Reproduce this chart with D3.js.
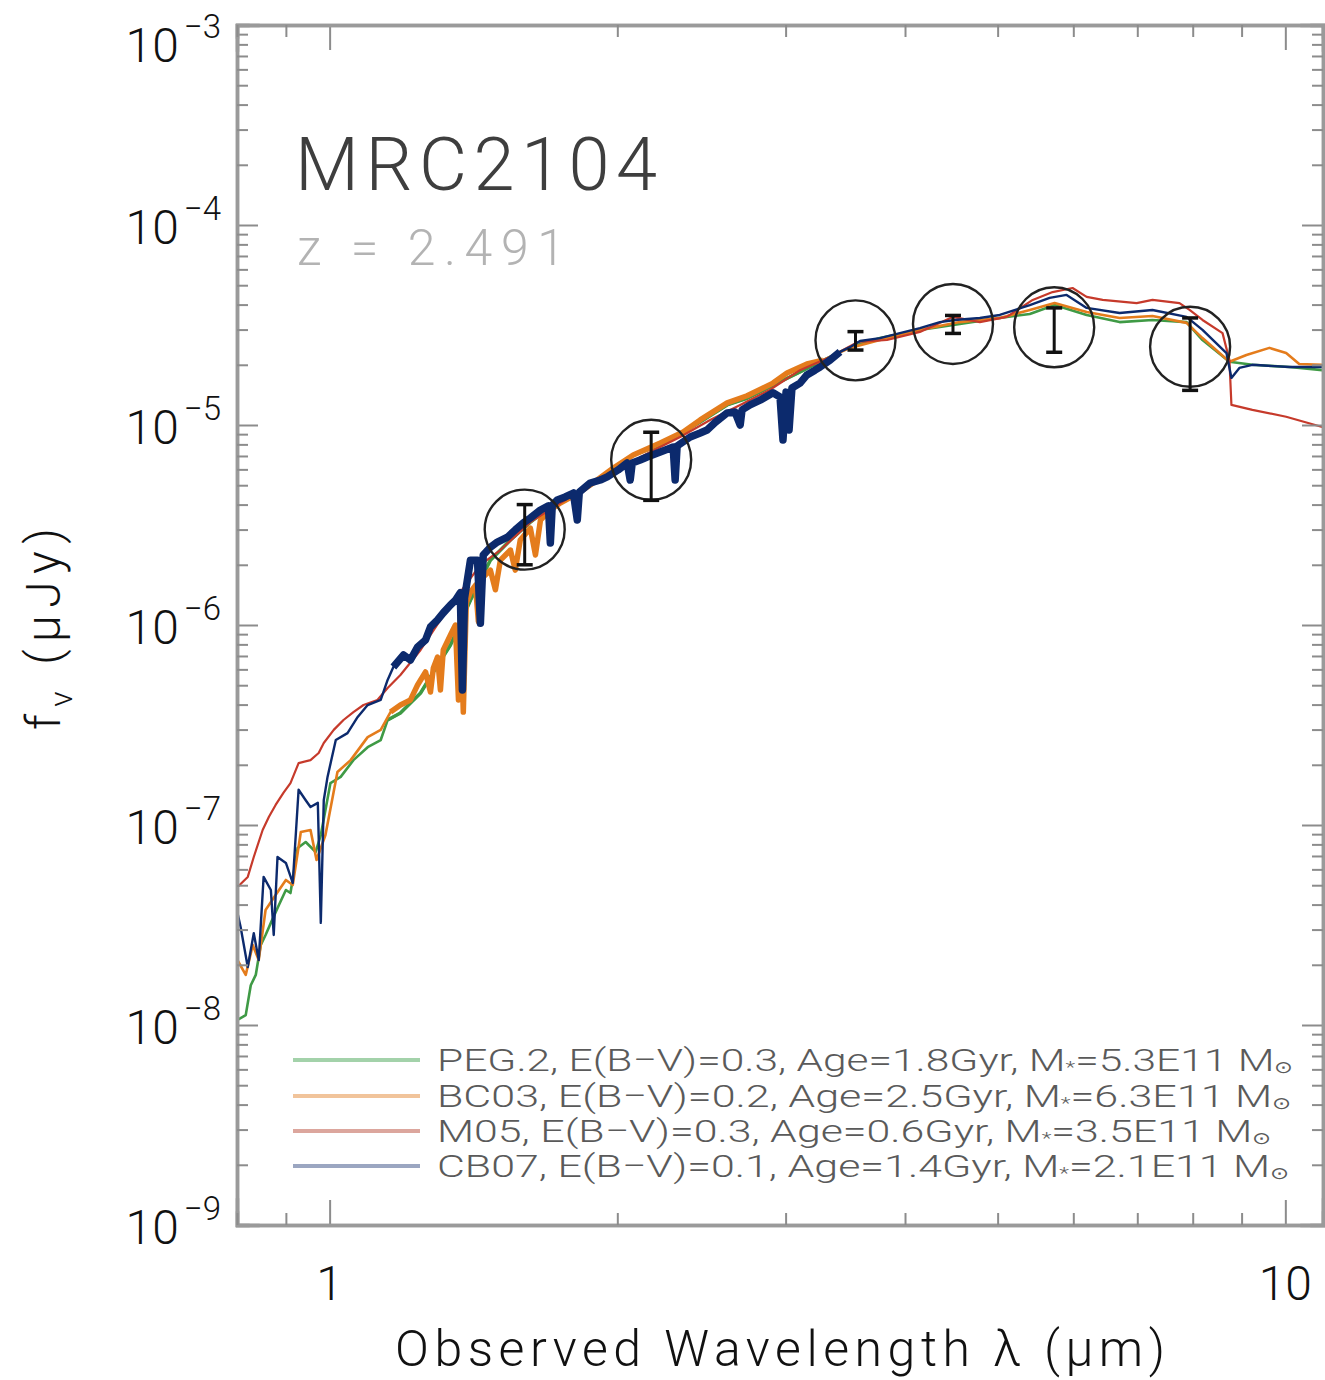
<!DOCTYPE html>
<html><head><meta charset="utf-8">
<script src="https://cdn.jsdelivr.net/npm/d3@7"></script>
<style>
body{margin:0;background:#fff}
svg{display:block}
text{font-family:Roboto,"DejaVu Sans",sans-serif;font-weight:300}
</style></head>
<body><svg id="c" width="1325" height="1380"></svg>
<script>
// ---------------- data ----------------
const pegWave=[0.801,0.817,0.827,0.837,0.847,0.857,0.868,0.885,0.900,0.910,0.926,0.944,0.967,0.979,1.002,1.027,1.059,1.096,1.131,1.150,1.186,1.245,1.284,1.338,1.404,1.473,1.546,1.622,1.702,1.786,1.874,1.966,2.078,2.218,2.344,2.442,2.606,2.734,2.910,3.106,3.283,3.503,3.766,4.146,4.565,5.026,5.403,5.736,6.196,6.708,7.261,7.882,8.191,8.740,9.237,10.10,10.93];
const pegFlux=[1.06e-8,1.12e-8,1.58e-8,1.78e-8,2.51e-8,2.82e-8,3.24e-8,3.98e-8,4.73e-8,4.57e-8,7.67e-8,8.22e-8,7.33e-8,8.91e-8,1.62e-7,1.74e-7,2.11e-7,2.45e-7,2.66e-7,3.35e-7,3.63e-7,4.57e-7,5.82e-7,7.94e-7,1.33e-6,2.11e-6,2.66e-6,3.27e-6,3.89e-6,4.37e-6,5.01e-6,5.82e-6,7.08e-6,7.94e-6,9.23e-6,1.035e-5,1.26e-5,1.36e-5,1.58e-5,1.84e-5,2.11e-5,2.45e-5,2.72e-5,2.99e-5,3.20e-5,3.43e-5,3.59e-5,3.98e-5,3.55e-5,3.27e-5,3.35e-5,3.27e-5,2.66e-5,2.07e-5,2.00e-5,1.95e-5,1.88e-5];

const bc03Wave=[0.801,0.817,0.831,0.843,0.857,0.878,0.900,0.915,0.933,0.955,0.969,0.990,1.019,1.052,1.096,1.131,1.158,1.186,1.215,1.236,1.260,1.275,1.284,1.297,1.306,1.315,1.338,1.354,1.364,1.370,1.380,1.390,1.404,1.421,1.431,1.445,1.473,1.491,1.509,1.546,1.564,1.583,1.622,1.642,1.662,1.702,1.743,1.807,1.874,1.981,2.078,2.218,2.344,2.442,2.606,2.734,2.910,3.010,3.158,3.283,3.503,3.766,4.146,4.565,5.026,5.403,5.736,6.196,6.708,7.261,7.882,8.191,8.740,9.105,9.623,10.02,10.34,10.93];
const bc03Flux=[2.11e-8,1.78e-8,2.51e-8,2.11e-8,3.76e-8,4.47e-8,5.31e-8,5.01e-8,9.23e-8,9.44e-8,6.68e-8,8.91e-8,1.84e-7,2.11e-7,2.75e-7,2.99e-7,3.67e-7,3.98e-7,4.22e-7,5.01e-7,5.82e-7,4.62e-7,6.10e-7,6.92e-7,4.73e-7,7.50e-7,8.91e-7,1.00e-6,4.22e-7,1.19e-6,3.67e-7,1.29e-6,1.46e-6,1.58e-6,1.04e-6,1.72e-6,1.88e-6,1.50e-6,2.11e-6,2.37e-6,1.88e-6,2.66e-6,3.05e-6,2.24e-6,3.35e-6,3.76e-6,4.07e-6,4.47e-6,5.01e-6,6.10e-6,7.08e-6,8.13e-6,9.23e-6,1.06e-5,1.29e-5,1.40e-5,1.62e-5,1.82e-5,2.02e-5,2.11e-5,2.43e-5,2.66e-5,2.99e-5,3.27e-5,3.43e-5,3.76e-5,4.07e-5,3.67e-5,3.43e-5,3.51e-5,3.24e-5,2.72e-5,2.07e-5,2.24e-5,2.43e-5,2.29e-5,2.02e-5,2.00e-5];

const m05Wave=[0.801,0.821,0.833,0.851,0.864,0.878,0.895,0.910,0.928,0.955,0.974,0.986,1.010,1.034,1.059,1.085,1.122,1.150,1.186,1.245,1.306,1.370,1.438,1.509,1.622,1.743,1.874,2.014,2.165,2.327,2.501,2.689,2.889,3.106,3.339,3.571,3.830,4.146,4.487,4.790,5.110,5.441,5.708,5.989,6.196,6.440,6.989,7.261,7.749,7.939,8.191,8.596,8.740,8.782,9.237,10.02,10.93];
const m05Flux=[4.90e-8,5.50e-8,6.92e-8,9.44e-8,1.10e-7,1.26e-7,1.45e-7,1.62e-7,2.04e-7,2.11e-7,2.29e-7,2.57e-7,2.99e-7,3.35e-7,3.67e-7,3.98e-7,4.22e-7,4.84e-7,5.62e-7,7.50e-7,1.06e-6,1.46e-6,2.00e-6,2.37e-6,3.27e-6,4.07e-6,5.01e-6,6.10e-6,7.33e-6,8.71e-6,1.06e-5,1.26e-5,1.50e-5,1.88e-5,2.19e-5,2.60e-5,2.66e-5,2.92e-5,3.47e-5,3.27e-5,3.47e-5,4.22e-5,4.62e-5,4.84e-5,4.37e-5,4.22e-5,4.07e-5,4.22e-5,4.07e-5,3.76e-5,3.35e-5,2.88e-5,2.11e-5,1.26e-5,1.19e-5,1.10e-5,9.77e-6];

const cb07Wave=[0.801,0.807,0.821,0.833,0.843,0.853,0.868,0.874,0.882,0.900,0.915,0.928,0.944,0.955,0.972,0.979,0.986,0.995,1.015,1.044,1.070,1.096,1.131,1.150,1.166,1.195,1.215,1.236,1.260,1.275,1.297,1.315,1.338,1.354,1.370,1.377,1.384,1.404,1.428,1.438,1.448,1.473,1.498,1.535,1.564,1.595,1.622,1.662,1.694,1.702,1.710,1.731,1.764,1.799,1.816,1.825,1.874,1.920,1.952,2.004,2.048,2.063,2.073,2.113,2.149,2.218,2.288,2.299,2.310,2.384,2.442,2.483,2.531,2.606,2.656,2.689,2.701,2.754,2.821,2.910,2.960,2.981,3.003,3.025,3.046,3.106,3.158,3.220,3.260,3.339,3.420,3.503,3.589,3.766,3.951,4.146,4.351,4.510,4.790,5.026,5.403,5.667,5.904,6.196,6.708,7.261,7.882,8.191,8.678,8.782,8.952,9.237,10.10,10.93];
const cb07Flux=[3.63e-8,3.09e-8,1.95e-8,2.88e-8,2.11e-8,5.50e-8,4.73e-8,2.82e-8,6.92e-8,6.46e-8,5.13e-8,1.50e-7,1.33e-7,1.23e-7,1.29e-7,3.24e-8,1.33e-7,1.74e-7,2.66e-7,2.88e-7,3.47e-7,3.98e-7,4.22e-7,5.31e-7,6.17e-7,7.08e-7,6.68e-7,7.76e-7,8.41e-7,9.77e-7,1.06e-6,1.15e-6,1.26e-6,1.33e-6,1.45e-6,4.73e-7,1.36e-6,2.11e-6,2.11e-6,1.02e-6,2.24e-6,2.45e-6,2.60e-6,2.75e-6,2.99e-6,3.24e-6,3.43e-6,3.76e-6,3.94e-6,2.57e-6,3.98e-6,4.22e-6,4.37e-6,4.57e-6,3.35e-6,4.62e-6,5.13e-6,5.31e-6,5.50e-6,5.96e-6,6.46e-6,5.31e-6,6.46e-6,6.68e-6,6.92e-6,7.33e-6,7.76e-6,5.31e-6,7.85e-6,8.71e-6,9.12e-6,9.44e-6,1.03e-5,1.15e-5,1.16e-5,1.00e-5,1.19e-5,1.26e-5,1.33e-5,1.45e-5,1.38e-5,8.41e-6,1.46e-5,9.44e-6,1.53e-5,1.62e-5,1.78e-5,1.88e-5,1.95e-5,2.11e-5,2.32e-5,2.45e-5,2.63e-5,2.72e-5,2.88e-5,3.05e-5,3.27e-5,3.35e-5,3.43e-5,3.55e-5,3.98e-5,4.32e-5,4.47e-5,3.85e-5,3.63e-5,3.76e-5,3.47e-5,2.99e-5,2.29e-5,1.72e-5,1.93e-5,2.00e-5,1.95e-5,1.95e-5];

// photometry (H, K, IRAC 3.6/4.5/5.8/8.0)
const photWave=[1.60,2.17,3.55,4.49,5.73,7.95];
const photFlux=[3.0e-6,6.7e-6,2.65e-5,3.2e-5,3.08e-5,2.46e-5];
const photErr=[1.0e-6,2.5e-6,0.28e-5,0.33e-5,0.77e-5,0.97e-5];

// legend
const modelNames=["PEG.2","BC03","M05","CB07"];
const modelEBV=["0.3","0.2","0.3","0.1"];
const modelAge=["1.8","2.5","0.6","1.4"];
const modelMass=["5.3E11","6.3E11","3.5E11","2.1E11"];

const yTickExp=[-3,-4,-5,-6,-7,-8,-9];
const xTickLabels=[1,10];
const objName="MRC2104";
const objZ="z = 2.491";

// ---------------- layout ----------------
const L=237,R=1323,T=25,B=1225;
const svg=d3.select("#c");
const x=d3.scaleLog().domain([0.8,10.95]).range([L,R]);
const y=d3.scaleLog().domain([1e-9,1e-3]).range([B,T]);

svg.append("clipPath").attr("id","clip").append("rect")
  .attr("x",L).attr("y",T).attr("width",R-L).attr("height",B-T);

const models=[
  {w:pegWave,f:pegFlux,c:"#3f9a45",lc:"#a3d2aa",sw:2.6,thick:[1.15,3.45],tw:3.5},
  {w:bc03Wave,f:bc03Flux,c:"#e47c1c",lc:"#f1c49b",sw:2.6,thick:[1.15,3.45],tw:5.5},
  {w:m05Wave,f:m05Flux,c:"#c63a2b",lc:"#dca69d",sw:2.2,thick:null},
  {w:cb07Wave,f:cb07Flux,c:"#0c2a6d",lc:"#9ba6c1",sw:2.4,thick:[1.16,3.45],tw:7.5}
];

const line=d3.line().x(d=>x(d[0])).y(d=>y(d[1]));
const g=svg.append("g").attr("clip-path","url(#clip)");
models.forEach(m=>{
  const pts=d3.zip(m.w,m.f);
  g.append("path").attr("d",line(pts)).attr("fill","none")
    .attr("stroke",m.c).attr("stroke-width",m.sw).attr("stroke-linejoin","round");
  if(m.thick){
    const sub=pts.filter(p=>p[0]>=m.thick[0]&&p[0]<=m.thick[1]);
    g.append("path").attr("d",line(sub)).attr("fill","none")
      .attr("stroke",m.c).attr("stroke-width",m.tw).attr("stroke-linejoin","round");
  }
});

// photometry circles + error bars
const ph=svg.append("g");
photWave.forEach((w,i)=>{
  const cx=x(w), cy=y(photFlux[i]);
  ph.append("circle").attr("cx",cx).attr("cy",cy).attr("r",40)
    .attr("fill","none").attr("stroke","#222").attr("stroke-width",2.4);
  const y1=y(photFlux[i]+photErr[i]), y2=y(photFlux[i]-photErr[i]);
  ph.append("line").attr("x1",cx).attr("x2",cx).attr("y1",y1).attr("y2",y2)
    .attr("stroke","#111").attr("stroke-width",3);
  [y1,y2].forEach(yy=>ph.append("line").attr("x1",cx-8).attr("x2",cx+8)
    .attr("y1",yy).attr("y2",yy).attr("stroke","#111").attr("stroke-width",3.5));
});

// ---------------- axes ----------------
const axCol="#9a9a9a";
const yMajor=yTickExp.map(e=>Math.pow(10,e));
const yMinor=y.ticks().filter(v=>!yMajor.some(m=>Math.abs(v/m-1)<1e-6));
const xMajor=[1,10];
const xMinor=x.ticks().filter(v=>v!==1&&v!==10);

function drawAxis(gen,tr,vals,size){
  const a=svg.append("g").attr("transform",tr)
    .call(gen.tickValues(vals).tickSize(size).tickFormat(""));
  a.select(".domain").attr("stroke",axCol).attr("stroke-width",3.5);
  a.selectAll(".tick line").attr("stroke","#8c8c8c").attr("stroke-width",2);
}
drawAxis(d3.axisLeft(y),`translate(${L},0)`,yMajor,-21);
drawAxis(d3.axisLeft(y),`translate(${L},0)`,yMinor,-11);
drawAxis(d3.axisRight(y),`translate(${R},0)`,yMajor,-21);
drawAxis(d3.axisRight(y),`translate(${R},0)`,yMinor,-11);
drawAxis(d3.axisBottom(x),`translate(0,${B})`,xMajor,-25);
drawAxis(d3.axisBottom(x),`translate(0,${B})`,xMinor,-12);
drawAxis(d3.axisTop(x),`translate(0,${T})`,xMajor,-25);
drawAxis(d3.axisTop(x),`translate(0,${T})`,xMinor,-12);
svg.selectAll(".domain").attr("stroke-linecap","square");

// y tick labels
yTickExp.forEach(e=>{
  const yy=Math.max(y(Math.pow(10,e))+19,62);
  const t=svg.append("text").attr("x",221).attr("y",yy)
    .attr("text-anchor","end").attr("font-size",48).attr("fill","#111");
  t.append("tspan").text("10");
  t.append("tspan").attr("dy",-24).attr("dx",5).attr("font-size",33).text("\u2212"+Math.abs(e));
});
// x tick labels
xTickLabels.forEach(v=>{
  svg.append("text").attr("x",x(v)).attr("y",1300).attr("text-anchor","middle")
    .attr("font-size",48).attr("fill","#111").text(v);
});

// axis titles
svg.append("text").attr("x",395).attr("y",1366).attr("font-size",50).attr("fill","#111")
  .attr("textLength",770).attr("lengthAdjust","spacing")
  .text("Observed Wavelength \u03bb (\u03bcm)");
const yt=svg.append("text").attr("transform","translate(60,730) rotate(-90)")
  .attr("font-size",48).attr("fill","#111").attr("textLength",202).attr("lengthAdjust","spacing");
yt.append("tspan").text("f");
yt.append("tspan").attr("dy",12).attr("font-size",32).text("\u03bd");
yt.append("tspan").attr("dy",-12).text(" (\u03bcJy)");

// object name + redshift
svg.append("text").attr("x",295).attr("y",190).attr("font-size",74).attr("fill","#3e3e3e")
  .attr("textLength",362).attr("lengthAdjust","spacing").text(objName);
svg.append("text").attr("x",297).attr("y",265).attr("font-size",50).attr("fill","#b3b3b3")
  .attr("textLength",268).attr("lengthAdjust","spacing").text(objZ);

// legend
const legY=[1060,1096,1131,1166];
const legLen=[856,854,834,852];
models.forEach((m,i)=>{
  svg.append("line").attr("x1",293).attr("x2",420).attr("y1",legY[i]).attr("y2",legY[i])
    .attr("stroke",m.lc).attr("stroke-width",4);
  const t=svg.append("text").attr("x",437).attr("y",legY[i]+11).attr("font-size",32)
    .attr("fill","#5a5a5a").attr("textLength",legLen[i]).attr("lengthAdjust","spacingAndGlyphs");
  t.append("tspan").text(`${modelNames[i]}, E(B\u2212V)=${modelEBV[i]}, Age=${modelAge[i]}Gyr, M`);
  t.append("tspan").attr("dy",2).attr("font-size",17).text("*");
  t.append("tspan").attr("dy",-2).text(`=${modelMass[i]} M`);
  t.append("tspan").attr("dy",2).attr("font-size",17).text("\u2299");
});
</script></body></html>
